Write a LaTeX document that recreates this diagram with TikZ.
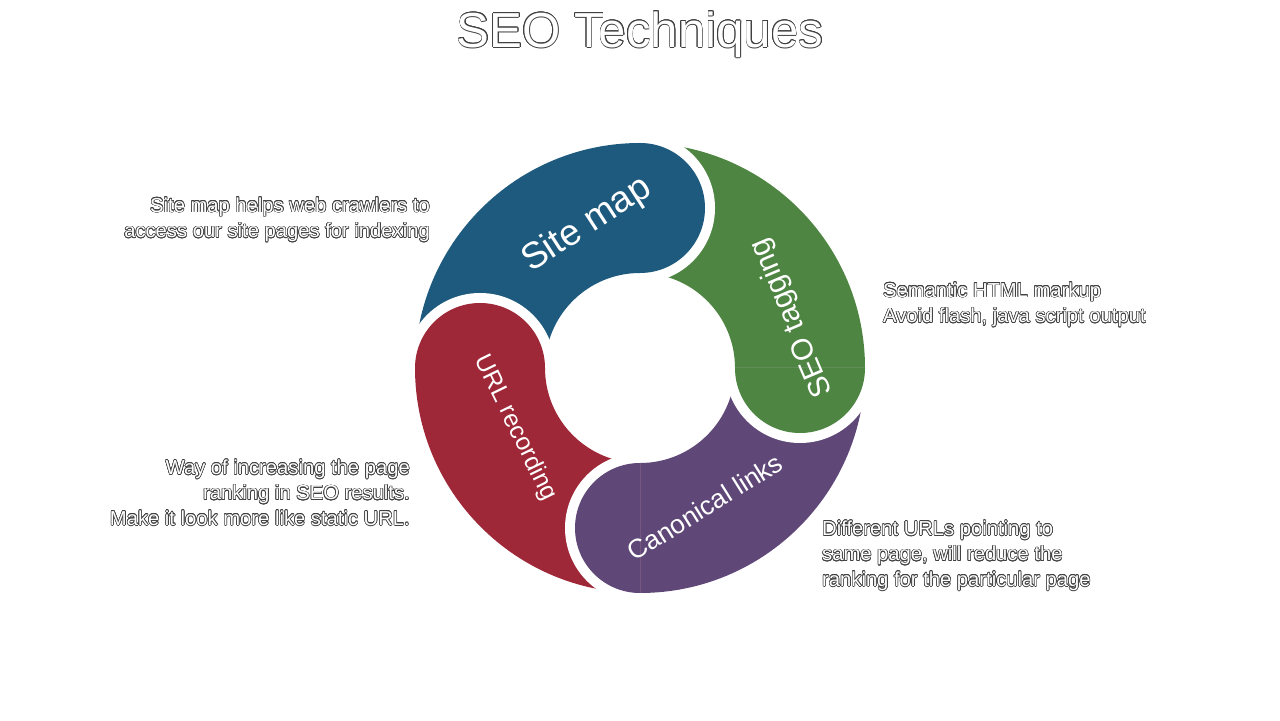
\documentclass[tikz,border=0pt]{standalone}
\usepackage{fontspec}
\setmainfont{Liberation Sans}
\usepackage{contour}
\contourlength{0.35pt}
\usetikzlibrary{positioning, calc}
\definecolor{mapblue}{HTML}{1E5A7E}
\definecolor{taggreen}{HTML}{4E8542}
\definecolor{linkpurple}{HTML}{5F4878}
\definecolor{urlred}{HTML}{9E2837}
\newcommand{\outl}[1]{\contour{black!75}{#1}}

\begin{document}
\begin{tikzpicture}[x=0.02cm, y=0.02cm,
    segtext/.style={text=white, font=\fontsize{#1}{#1}\selectfont},
    sidetext/.style={text=white, font=\fontsize{11.5}{14.5}\selectfont}
]
\useasboundingbox (0,0) rectangle (1280,720);

\node[text=white, font=\fontsize{28}{28}\selectfont](title) at (640,685){\outl{SEO Techniques}};

\begin{scope}[shift={(640,352)}]
% ring sectors
\foreach \col/\a in {mapblue/180, taggreen/90, linkpurple/0, urlred/-90}{
  \fill[\col] (\a:225) arc[start angle=\a, end angle=\a-90, radius=225]
    -- (\a-90:95) arc[start angle=\a-90, end angle=\a, radius=95] -- cycle;
}
% rounded heads
\foreach \col/\h in {mapblue/90, taggreen/0, linkpurple/-90, urlred/180}{
  \fill[white] ($(\h:160)+(\h:75)$) arc[start angle=\h, end angle=\h-180, radius=75] -- cycle;
  \fill[\col] ($(\h:160)+(\h:65)$) arc[start angle=\h, end angle=\h-180, radius=65] -- cycle;
}
\end{scope}

\node[segtext=21, rotate=33](sitemap) at (587,495){Site map};
\node[segtext=17, rotate=113](tagging) at (792,402){SEO tagging};
\node[segtext=15, rotate=32](canonical) at (705,213){Canonical links};
\node[segtext=14, rotate=-64](urlrec) at (515,292){URL recording};

\node[sidetext, align=right, anchor=east](mapnote) at (436,500)
  {\outl{Site map helps web crawlers to}\\\outl{access our site pages for indexing}};
\node[sidetext, align=left, anchor=west](tagnote) at (877,415)
  {\outl{Semantic HTML markup}\\\outl{Avoid flash, java script output}};
\node[sidetext, align=left, anchor=west](linknote) at (816,164)
  {\outl{Different URLs pointing to}\\\outl{same page, will reduce the}\\\outl{ranking for the particular page}};
\node[sidetext, align=right, anchor=east](urlnote) at (416,227)
  {\outl{Way of increasing the page}\\\outl{ranking in SEO results.}\\\outl{Make it look more like static URL.}};
\end{tikzpicture}
\end{document}
